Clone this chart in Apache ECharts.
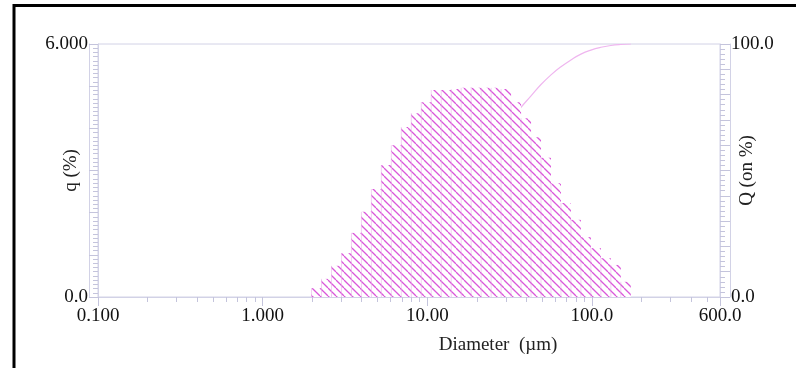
<!DOCTYPE html>
<html><head><meta charset="utf-8">
<script src="https://cdn.jsdelivr.net/npm/echarts@6/dist/echarts.min.js"></script>
<style>html,body{margin:0;padding:0;background:#fff}#c{width:796px;height:370px}</style>
</head><body><div id="c"></div>
<script>
// Size class edges (µm)
const binEdges = [1.981, 2.279, 2.620, 3.012, 3.463, 3.981, 4.577, 5.262, 6.050, 6.956,
  7.998, 9.196, 10.57, 12.16, 13.98, 16.07, 18.48, 21.25, 24.43, 28.09,
  32.29, 37.13, 42.69, 49.08, 56.43, 64.88, 74.60, 85.77, 98.61, 113.4,
  130.4, 149.9, 172.3];
// Frequency q (%) per class
const qValues = [0.21, 0.43, 0.74, 1.04, 1.52, 2.02, 2.56, 3.13, 3.60, 4.03,
  4.36, 4.62, 4.91, 4.91, 4.93, 4.96, 4.96, 4.96, 4.96, 4.93,
  4.62, 4.24, 3.79, 3.30, 2.70, 2.23, 1.83, 1.42, 1.16, 0.92,
  0.76, 0.36];
// Cumulative Q (%) at each class edge
const QValues = [0, 0.2, 0.6, 1.3, 2.4, 4.0, 6.1, 8.8, 12.0, 15.8,
  20.0, 24.6, 29.5, 34.6, 39.8, 45.0, 50.2, 55.3, 60.4, 65.3,
  70.2, 75.0, 79.5, 84.0, 87.8, 91.0, 93.7, 96.0, 97.6, 98.7,
  99.4, 99.8, 100];
const xLabelValues = [0.1, 1, 10, 100, 600];
const xLabelTexts = ['0.100', '1.000', '10.00', '100.0', '600.0'];
const xMinorTicks = [0.2,0.3,0.4,0.5,0.6,0.7,0.8,0.9, 2,3,4,5,6,7,8,9, 20,30,40,50,60,70,80,90, 200,300,400,500];
const leftLabels = {0: '0.0', 6: '6.000'};
const rightLabels = {0: '0.0', 100: '100.0'};

const FONT = 'Liberation Serif';
const FS = 19;
const AX = '#d2d2e6';
const TK = '#c4c4dc';

// hatch pattern
const tile = document.createElement('canvas');
const P = 8;
tile.width = P; tile.height = P;
const g = tile.getContext('2d');
g.fillStyle = '#ffffff'; g.fillRect(0, 0, P, P);
g.strokeStyle = '#da58da'; g.lineWidth = 1.3;
for (const x0 of [-P, 0, P]) { g.beginPath(); g.moveTo(x0, 0); g.lineTo(x0 + P, P); g.stroke(); }
const hatch = {image: tile, repeat: 'repeat'};

const barData = qValues.map((v, i) => [binEdges[i], binEdges[i + 1], v]);
const curveData = QValues.map((v, i) => [binEdges[i], v]);

function fmtX(v) {
  for (let i = 0; i < xLabelValues.length; i++) {
    if (Math.abs(v - xLabelValues[i]) / xLabelValues[i] < 1e-4) return xLabelTexts[i];
  }
  return '';
}

const chart = echarts.init(document.getElementById('c'), null, {renderer: 'canvas'});
chart.setOption({
  animation: false,
  backgroundColor: '#fff',
  grid: {left: 98, right: 76, top: 44, bottom: 73, show: true, borderColor: AX, borderWidth: 1,
         backgroundColor: 'transparent', containLabel: false, outerBoundsMode: 'none'},
  xAxis: [
    {type: 'log', logBase: 10, min: 0.1, max: 600, position: 'bottom',
     axisLine: {show: true, lineStyle: {color: AX}},
     axisTick: {show: true, length: 9, lineStyle: {color: TK}, customValues: xLabelValues},
     axisLabel: {show: true, customValues: xLabelValues, formatter: fmtX, margin: 10,
       fontFamily: FONT, fontSize: FS, color: '#111'},
     splitLine: {show: false}, minorTick: {show: false},
     name: 'Diameter  (µm)', nameLocation: 'middle', nameGap: 39, nameMoveOverlap: false,
     nameTextStyle: {fontFamily: FONT, fontSize: FS, color: '#222', padding: [0, 0, 0, 178]}},
    {type: 'log', logBase: 10, min: 0.1, max: 600, position: 'bottom',
     axisLine: {show: false},
     axisTick: {show: true, length: 5, lineStyle: {color: TK}, customValues: xMinorTicks},
     axisLabel: {show: false}, splitLine: {show: false}},
    {type: 'log', logBase: 10, min: 0.1, max: 600, position: 'bottom', offset: 9,
     axisLine: {show: true, lineStyle: {color: AX}},
     axisTick: {show: false}, axisLabel: {show: false}, splitLine: {show: false}}
  ],
  yAxis: [
    {type: 'value', min: 0, max: 6, interval: 1, position: 'left',
     axisLine: {show: true, lineStyle: {color: AX}},
     axisTick: {show: true, length: 9, lineStyle: {color: TK}},
     minorTick: {show: true, splitNumber: 10, length: 5, lineStyle: {color: TK}},
     axisLabel: {formatter: v => leftLabels[v] || '', margin: 10, fontFamily: FONT, fontSize: FS, color: '#111'},
     splitLine: {show: false},
     name: 'q (%)', nameLocation: 'middle', nameRotate: 90, nameGap: 17, nameMoveOverlap: false,
     nameTextStyle: {fontFamily: FONT, fontSize: FS, color: '#222'}},
    {type: 'value', min: 0, max: 100, interval: 10, position: 'right',
     axisLine: {show: true, lineStyle: {color: AX}},
     axisTick: {show: true, length: 10, lineStyle: {color: TK}},
     minorTick: {show: true, splitNumber: 5, length: 5, lineStyle: {color: TK}},
     axisLabel: {formatter: v => rightLabels[v] || '', margin: 11, fontFamily: FONT, fontSize: FS, color: '#111'},
     splitLine: {show: false},
     name: 'Q (on %)', nameLocation: 'middle', nameRotate: 90, nameGap: 18, nameMoveOverlap: false,
     nameTextStyle: {fontFamily: FONT, fontSize: FS, color: '#222'}},
    {type: 'value', min: 0, max: 6, position: 'left', offset: 9,
     axisLine: {show: true, lineStyle: {color: AX}},
     axisTick: {show: false}, axisLabel: {show: false}, splitLine: {show: false}},
    {type: 'value', min: 0, max: 100, position: 'right', offset: 10,
     axisLine: {show: true, lineStyle: {color: AX}},
     axisTick: {show: false}, axisLabel: {show: false}, splitLine: {show: false}}
  ],
  series: [
    {type: 'line', name: 'Q', xAxisIndex: 0, yAxisIndex: 1, data: curveData, smooth: true,
     showSymbol: false, z: 1, lineStyle: {color: '#efb6ef', width: 1.2}},
    {type: 'custom', name: 'q', xAxisIndex: 0, yAxisIndex: 0, data: barData, z: 2,
     encode: {x: [0, 1], y: 2},
     renderItem: function (params, api) {
       const lo = api.value(0), hi = api.value(1), v = api.value(2);
       const p0 = api.coord([lo, v]);
       const p1 = api.coord([hi, 0]);
       return {type: 'group', children: [
         {type: 'rect', shape: {x: p0[0], y: p0[1], width: p1[0] - p0[0], height: p1[1] - p0[1]},
          style: {fill: hatch}},
         {type: 'line', shape: {x1: p0[0], y1: p0[1], x2: p0[0], y2: p1[1]},
          style: {stroke: 'rgba(222,140,222,0.4)', lineWidth: 1}}
       ]};
     }}
  ],
  graphic: [
    {type: 'polyline', shape: {points: [[14, 368], [14, 5.5], [796, 5.5]]},
     style: {stroke: '#000', lineWidth: 3, fill: null}, silent: true}
  ]
});
</script></body></html>
